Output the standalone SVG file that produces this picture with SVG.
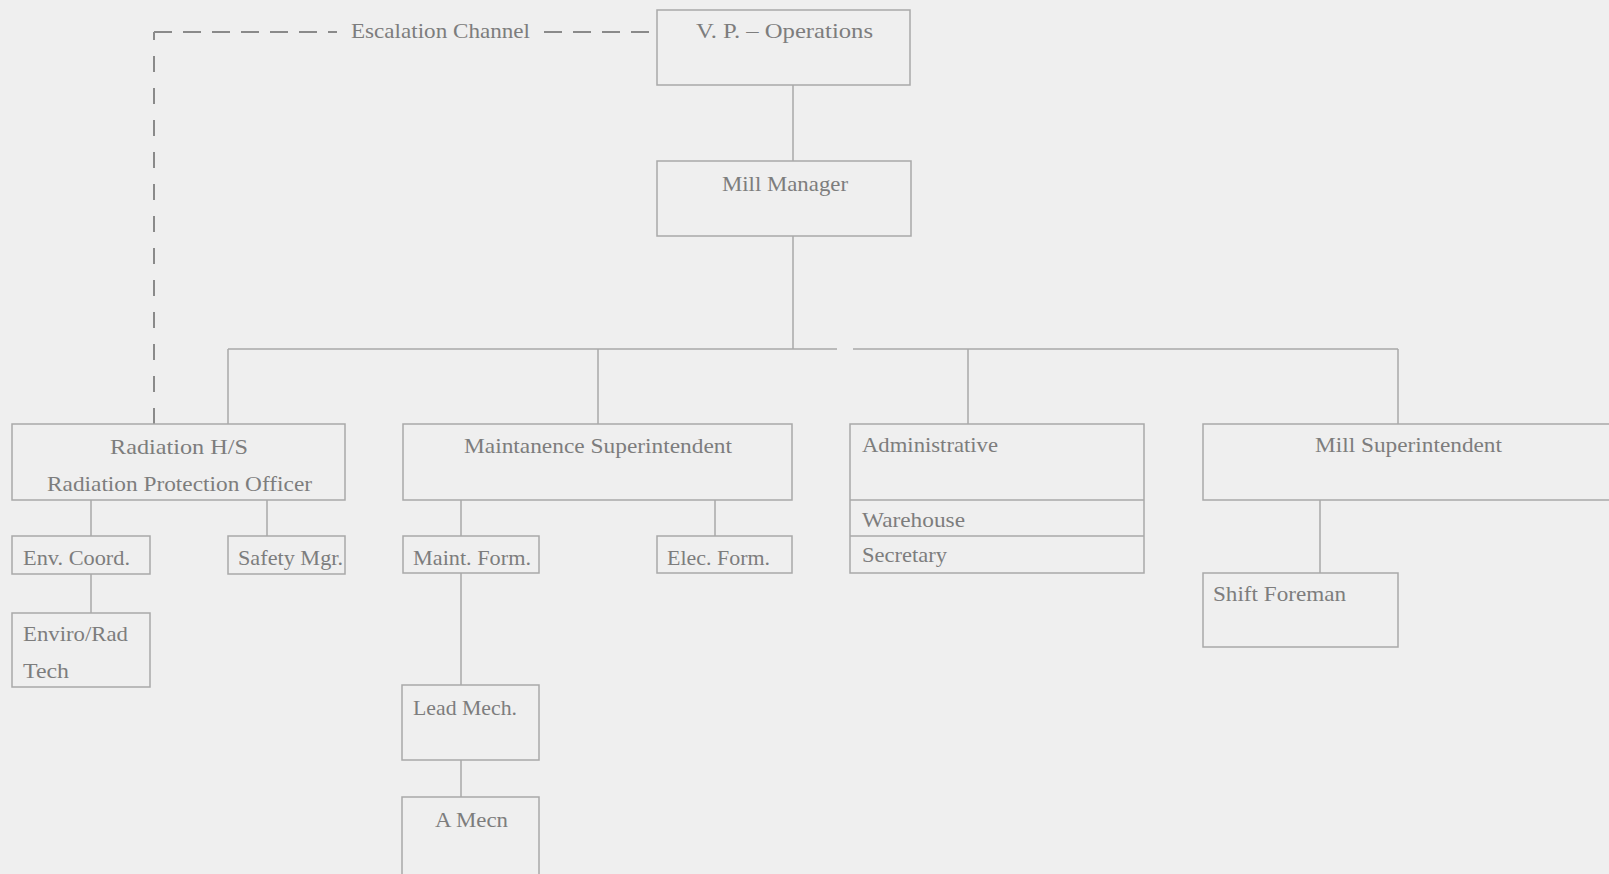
<svg xmlns="http://www.w3.org/2000/svg" width="1609" height="874" viewBox="0 0 1609 874">
<style>
.bx{fill:none;stroke:#a9a9a9;stroke-width:1.5}
.ln{fill:none;stroke:#a9a9a9;stroke-width:1.5}
.dh{fill:none;stroke:#8a8a8a;stroke-width:2}
text{font-family:"Liberation Serif","Times New Roman",serif;font-size:21px;fill:#7d7d7d}
</style>
<rect x="0" y="0" width="1609" height="874" fill="#efefef"/>
<g id="connectors">
<path class="ln" d="M793,85 V161"/>
<path class="ln" d="M793,236 V349"/>
<path class="ln" d="M228,349 H837 M853,349 H1398"/>
<path class="ln" d="M228,349 V424 M598,349 V424 M968,349 V424 M1398,349 V424"/>
<path class="ln" d="M91,500 V536 M267,500 V536 M91,574 V613"/>
<path class="ln" d="M461,500 V536 M715,500 V536 M461,573 V685 M461,760 V797"/>
<path class="ln" d="M1320,500 V573"/>
<path class="dh" d="M154,424 V32" stroke-dasharray="16 16"/>
<path class="dh" d="M154,32 H337" stroke-dasharray="18 11"/>
<path class="dh" d="M544,32 H657" stroke-dasharray="18 11"/>
<text x="351" y="38" textLength="179" lengthAdjust="spacingAndGlyphs">Escalation Channel</text>
</g>
<g id="vp"><rect class="bx" x="657" y="10" width="253" height="75"/><text x="696" y="38" textLength="177" lengthAdjust="spacingAndGlyphs">V. P. – Operations</text></g>
<g id="mill-manager"><rect class="bx" x="657" y="161" width="254" height="75"/><text x="722" y="191" textLength="126" lengthAdjust="spacingAndGlyphs">Mill Manager</text></g>
<g id="radiation"><rect class="bx" x="12" y="424" width="333" height="76"/><text x="110" y="454" textLength="138" lengthAdjust="spacingAndGlyphs">Radiation  H/S</text><text x="47" y="491" textLength="265" lengthAdjust="spacingAndGlyphs">Radiation Protection Officer</text></g>
<g id="env-coord"><rect class="bx" x="12" y="536" width="138" height="38"/><text x="23" y="565" textLength="107" lengthAdjust="spacingAndGlyphs">Env. Coord.</text></g>
<g id="safety-mgr"><rect class="bx" x="228" y="536" width="117" height="38"/><text x="238" y="565" textLength="105" lengthAdjust="spacingAndGlyphs">Safety Mgr.</text></g>
<g id="enviro-rad"><rect class="bx" x="12" y="613" width="138" height="74"/><text x="23" y="641" textLength="105" lengthAdjust="spacingAndGlyphs">Enviro/Rad</text><text x="23" y="678" textLength="46" lengthAdjust="spacingAndGlyphs">Tech</text></g>
<g id="maint-super"><rect class="bx" x="403" y="424" width="389" height="76"/><text x="464" y="453" textLength="268" lengthAdjust="spacingAndGlyphs">Maintanence Superintendent</text></g>
<g id="maint-form"><rect class="bx" x="403" y="536" width="136" height="37"/><text x="413" y="565" textLength="118" lengthAdjust="spacingAndGlyphs">Maint. Form.</text></g>
<g id="elec-form"><rect class="bx" x="657" y="536" width="135" height="37"/><text x="667" y="565" textLength="103" lengthAdjust="spacingAndGlyphs">Elec. Form.</text></g>
<g id="lead-mech"><rect class="bx" x="402" y="685" width="137" height="75"/><text x="413" y="715" textLength="104" lengthAdjust="spacingAndGlyphs">Lead Mech.</text></g>
<g id="a-mech"><rect class="bx" x="402" y="797" width="137" height="95"/><text x="435" y="827" textLength="73" lengthAdjust="spacingAndGlyphs">A Mecn</text></g>
<g id="administrative"><rect class="bx" x="850" y="424" width="294" height="149"/><path class="ln" d="M850,500 H1144 M850,536 H1144"/><text x="862" y="452" textLength="136" lengthAdjust="spacingAndGlyphs">Administrative</text><text x="862" y="527" textLength="103" lengthAdjust="spacingAndGlyphs">Warehouse</text><text x="862" y="562" textLength="85" lengthAdjust="spacingAndGlyphs">Secretary</text></g>
<g id="mill-super"><rect class="bx" x="1203" y="424" width="420" height="76"/><text x="1315" y="452" textLength="187" lengthAdjust="spacingAndGlyphs">Mill Superintendent</text></g>
<g id="shift-foreman"><rect class="bx" x="1203" y="573" width="195" height="74"/><text x="1213" y="601" textLength="133" lengthAdjust="spacingAndGlyphs">Shift Foreman</text></g>
</svg>
